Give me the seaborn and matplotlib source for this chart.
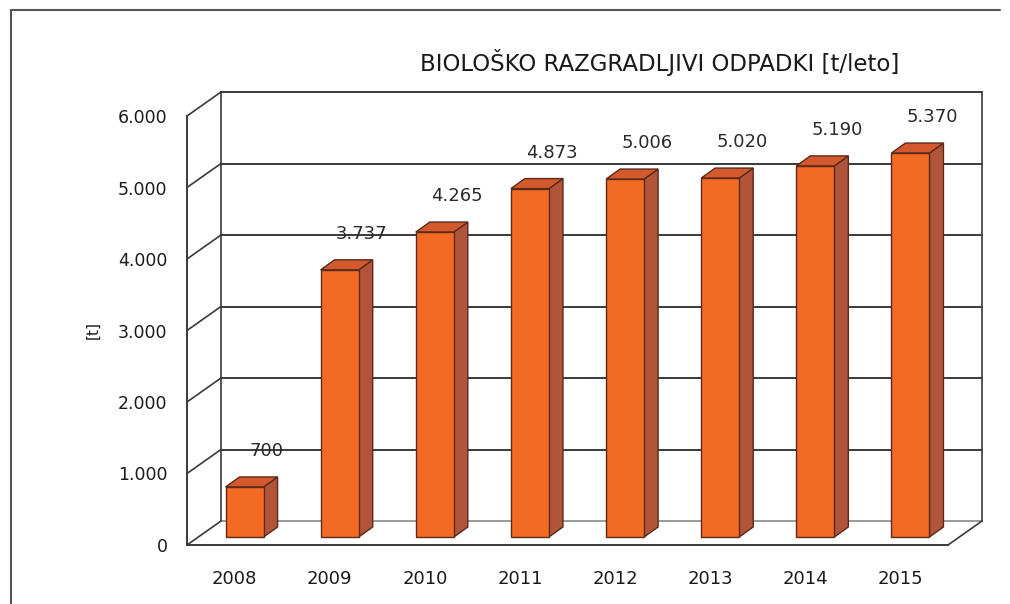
import matplotlib
matplotlib.use("Agg")
import matplotlib.pyplot as plt
import matplotlib.transforms as mtransforms
from matplotlib.lines import Line2D
from matplotlib.patches import Polygon
import seaborn as sns

# data
years = ["2008", "2009", "2010", "2011", "2012", "2013", "2014", "2015"]
values = [700, 3737, 4265, 4873, 5006, 5020, 5190, 5370]
y_ticks = [0, 1000, 2000, 3000, 4000, 5000, 6000]

title = "BIOLOŠKO RAZGRADLJIVI ODPADKI [t/leto]"
y_label = "[t]"

# colours
front_col = "#F26A24"
side_col = "#B0553A"
top_col = "#D45A2E"
edge_col = "#5A2A1A"
grid_col = "#3A3A3A"
text_col = "#1A1A1A"


def fmt(v):
    return f"{v:,}".replace(",", ".")


sns.set_style("white")
plt.rcParams["font.family"] = ["DejaVu Sans"]

W, H = 1010, 604
fig = plt.figure(figsize=(W / 100, H / 100), dpi=100)
ax = fig.add_axes([187 / W, (H - 545) / H, 761 / W, 429 / H])

# depth of the 3d box (pixels) and bar placement inside it
wall_dx, wall_dy = 34, 24
bar_dx, bar_dy = 10, 8
depth_dx, depth_dy = 14, 10


def shifted(dx, dy):
    return ax.transData + mtransforms.Affine2D().translate(dx, dy)


sns.barplot(x=years, y=values, ax=ax, color=front_col, saturation=1,
            width=0.4, edgecolor=edge_col, linewidth=1.0, zorder=5)
ax.set_xlim(-0.5, len(years) - 0.5)
ax.set_ylim(0, 6000)

back = shifted(wall_dx, wall_dy)
pix = mtransforms.IdentityTransform()
x0, x1 = -0.5, len(years) - 0.5
# back wall grid + left side wall
for v in y_ticks:
    c = "#9A9A9A" if v == 0 else grid_col
    ax.plot([x0, x1], [v, v], color=c, lw=1.4, transform=back, clip_on=False, zorder=1)
    p0 = ax.transData.transform((x0, v))
    ax.plot([p0[0], p0[0] + wall_dx], [p0[1], p0[1] + wall_dy], color=grid_col,
            lw=1.2, transform=pix, clip_on=False, zorder=1)
ax.plot([x0, x0], [0, 6000], color=grid_col, lw=1.2, transform=back, clip_on=False, zorder=1)
ax.plot([x1, x1], [0, 6000], color=grid_col, lw=1.2, transform=back, clip_on=False, zorder=1)
pr = ax.transData.transform((x1, 0))
ax.plot([pr[0], pr[0] + wall_dx], [pr[1], pr[1] + wall_dy], color=grid_col,
        lw=1.2, transform=pix, clip_on=False, zorder=1)

# bars: move front face into the box, add side and top faces
for patch, v in zip(ax.patches, values):
    patch.set_transform(shifted(bar_dx, bar_dy))
    bx, bw = patch.get_x(), patch.get_width()
    (lx, by), (rx, ty) = ax.transData.transform([(bx, 0), (bx + bw, v)])
    lx += bar_dx; rx += bar_dx; by += bar_dy; ty += bar_dy
    side = [(rx, by), (rx + depth_dx, by + depth_dy), (rx + depth_dx, ty + depth_dy), (rx, ty)]
    top = [(lx, ty), (rx, ty), (rx + depth_dx, ty + depth_dy), (lx + depth_dx, ty + depth_dy)]
    for pts, col in [(side, side_col), (top, top_col)]:
        ax.add_patch(Polygon(pts, closed=True, facecolor=col, edgecolor=edge_col, lw=1.0,
                             transform=pix, clip_on=False, zorder=4))
    ax.text((lx + rx) / 2 + 22, ty + 36, fmt(v), ha="center", va="center",
            fontsize=13, color="#2A2A2A", transform=pix, zorder=6)

# axes styling
for s in ["top", "right"]:
    ax.spines[s].set_visible(False)
for s in ["left", "bottom"]:
    ax.spines[s].set_color(grid_col)
    ax.spines[s].set_linewidth(1.4)
ax.set_yticks(y_ticks)
ax.set_yticklabels([fmt(v) for v in y_ticks], fontsize=12.5, color=text_col)
ax.set_xticks(range(len(years)))
ax.set_xticklabels(years, fontsize=13, color=text_col)
ax.set_xticks([i - 0.5 for i in range(len(years) + 1)], minor=True)
ax.tick_params(axis="x", which="major", length=0, pad=18)
ax.tick_params(axis="x", which="minor", length=9, width=1.2, color=grid_col, direction="out")
ax.tick_params(axis="y", length=6, width=1.2, color=grid_col, direction="out", pad=8)
ax.set_xlabel("")
ax.set_ylabel("")

fig.text(660 / W, 1 - 62 / H, title, ha="center", va="center", fontsize=16.5, color=text_col)
fig.text(93 / W, 1 - 330 / H, y_label, ha="center", va="center", rotation=90,
         fontsize=11, color=text_col)

# outer chart frame (top and left edges)
fig.add_artist(Line2D([11 / W, 1000 / W], [1 - 10 / H, 1 - 10 / H], color="#555555",
                      lw=1.5, transform=fig.transFigure))
fig.add_artist(Line2D([11 / W, 11 / W], [0, 1 - 10 / H], color="#555555",
                      lw=1.5, transform=fig.transFigure))

fig.savefig("out.png", dpi=100, facecolor="white")
